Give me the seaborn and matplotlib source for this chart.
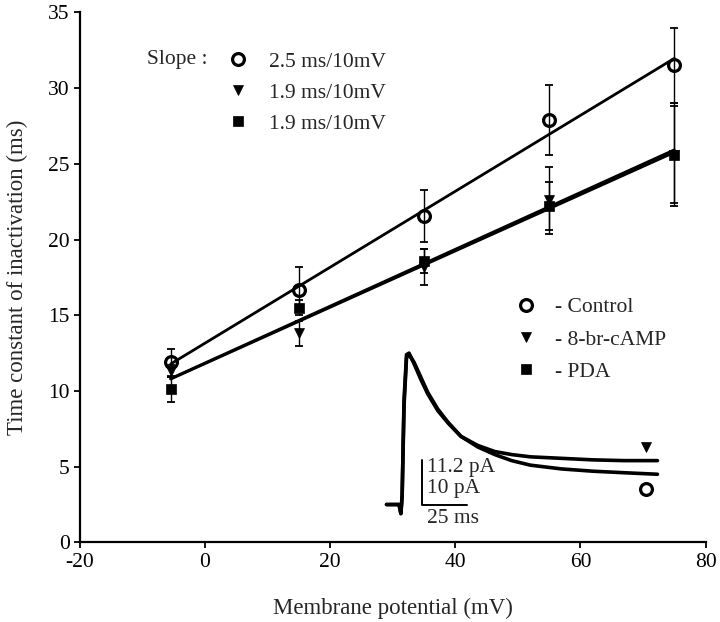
import matplotlib
matplotlib.use("Agg")
import matplotlib.pyplot as plt
from matplotlib.lines import Line2D
import numpy as np
import pandas as pd
import seaborn as sns

# mean time constants (ms) at each test potential (mV)
potential = [-5.5, 15, 35, 55, 75]
control = [11.9, 16.7, 21.55, 27.9, 31.5]
control_err = [0.9, 1.5, 1.7, 2.3, 2.5]
camp = [11.3, 13.8, 18.2, 22.6, 25.6]
camp_err = [0.4, 0.8, 1.2, 2.2, 3.2]
pda = [10.1, 15.5, 18.6, 22.2, 25.6]
pda_err = [0.8, 0.5, 0.8, 1.6, 3.4]

# inset current traces, drawn in the axes' own units
trace_x = [29.0, 30.0, 31.0, 31.3, 31.5, 31.8, 32.2, 32.6, 33.4, 34.5, 35.6, 37.2,
           38.8, 40.9, 43.6, 46.3, 49.0, 52.0, 57.0, 62.0, 67.0, 72.3]
trace_camp = [2.5, 2.5, 2.5, 1.9, 3.1, 9.4, 12.4, 12.5, 11.8, 10.75, 9.8, 8.7,
              7.9, 7.0, 6.4, 6.0, 5.8, 5.65, 5.55, 5.45, 5.4, 5.4]
trace_ctrl = [2.5, 2.5, 2.5, 1.9, 3.1, 9.0, 12.2, 12.4, 11.9, 10.9, 9.9, 8.8,
              7.95, 7.0, 6.3, 5.8, 5.4, 5.1, 4.85, 4.7, 4.6, 4.5]
trace_marker_x = 70.5
trace_marker_camp = 6.3
trace_marker_ctrl = 3.5
scalebar_x = [34.6, 34.6, 41.8]
scalebar_y = [5.45, 2.5, 2.5]
scalebar_labels = ["11.2 pA", "10 pA", "25 ms"]
scalebar_label_y = [4.95, 3.55, 1.55]

series = [
    ("Control", control, control_err, dict(marker="o", mfc="none", mec="black", mew=2.3, ms=8.5)),
    ("8-br-cAMP", camp, camp_err, dict(marker="v", mfc="black", mec="black", mew=0.5, ms=7.5)),
    ("PDA", pda, pda_err, dict(marker="s", mfc="black", mec="black", mew=0.5, ms=7.5)),
]

sns.set_style("ticks")
plt.rcParams["font.family"] = ["Liberation Serif", "DejaVu Serif"]
plt.rcParams["axes.unicode_minus"] = False

fig = plt.figure(figsize=(7.2, 6.22), dpi=100)
ax = fig.add_axes([0.111, 0.128, 0.869, 0.852])

slopes = []
for k, (name, y, err, style) in enumerate(series):
    coef = np.polyfit(potential, y, 1)
    slopes.append(coef[0])
    xl = np.array([min(potential), max(potential)])
    sns.lineplot(x=xl, y=np.polyval(coef, xl), ax=ax, color="black", lw=2.0, zorder=2)
    ax.errorbar(potential, y, yerr=err, fmt="none", ecolor="black", elinewidth=1.0,
                capsize=3, capthick=1.3, zorder=3)
    ax.plot(potential, y, ls="none", zorder=4 + k, **style)

traces = pd.DataFrame({
    "t": trace_x * 2,
    "i": trace_camp + trace_ctrl,
    "cond": ["8-br-cAMP"] * len(trace_x) + ["Control"] * len(trace_x),
})
sns.lineplot(data=traces, x="t", y="i", units="cond", estimator=None, ax=ax,
             color="black", lw=2.6, sort=False, zorder=2)
ax.plot([trace_marker_x], [trace_marker_camp], ls="none", **series[1][3])
ax.plot([trace_marker_x], [trace_marker_ctrl], ls="none", **series[0][3])
ax.plot(scalebar_x, scalebar_y, color="black", lw=1.4)
for lab, ly in zip(scalebar_labels, scalebar_label_y):
    ax.text(scalebar_x[0] + 0.8, ly, lab, fontsize=15.5, va="center", ha="left")

handles = [Line2D([], [], ls="none", **s[3]) for s in series]
leg1 = ax.legend(handles, [f"{s * 10:.1f} ms/10mV" for s in slopes],
                 loc="upper left", bbox_to_anchor=(3.5, 32.4), bbox_transform=ax.transData,
                 frameon=False, fontsize=15.5, handlelength=1.0, handletextpad=0.95,
                 labelspacing=0.5, borderpad=0, borderaxespad=0)
ax.add_artist(leg1)
ax.text(-9.2, 31.9, "Slope :", fontsize=15.5, va="center", ha="left")
ax.legend(handles, ["- " + s[0] for s in series],
          loc="upper left", bbox_to_anchor=(49.5, 16.2), bbox_transform=ax.transData,
          frameon=False, fontsize=15.5, handlelength=1.0, handletextpad=0.87,
          labelspacing=0.57, borderpad=0, borderaxespad=0)

ax.set_xlim(-20, 80)
ax.set_ylim(0, 35)
ax.set_xticks(range(-20, 81, 20))
ax.set_yticks(range(0, 36, 5))
ax.tick_params(direction="out", length=4, width=1.3, labelsize=15.5, colors="black")
for side in ("left", "bottom"):
    ax.spines[side].set_linewidth(1.6)
    ax.spines[side].set_color("black")
sns.despine(ax=ax)
ax.set_xlabel("Membrane potential (mV)", fontsize=16.5, labelpad=19)
ax.set_ylabel("Time constant of inactivation (ms)", fontsize=16.5, labelpad=14)

fig.savefig("out.png", dpi=100)
